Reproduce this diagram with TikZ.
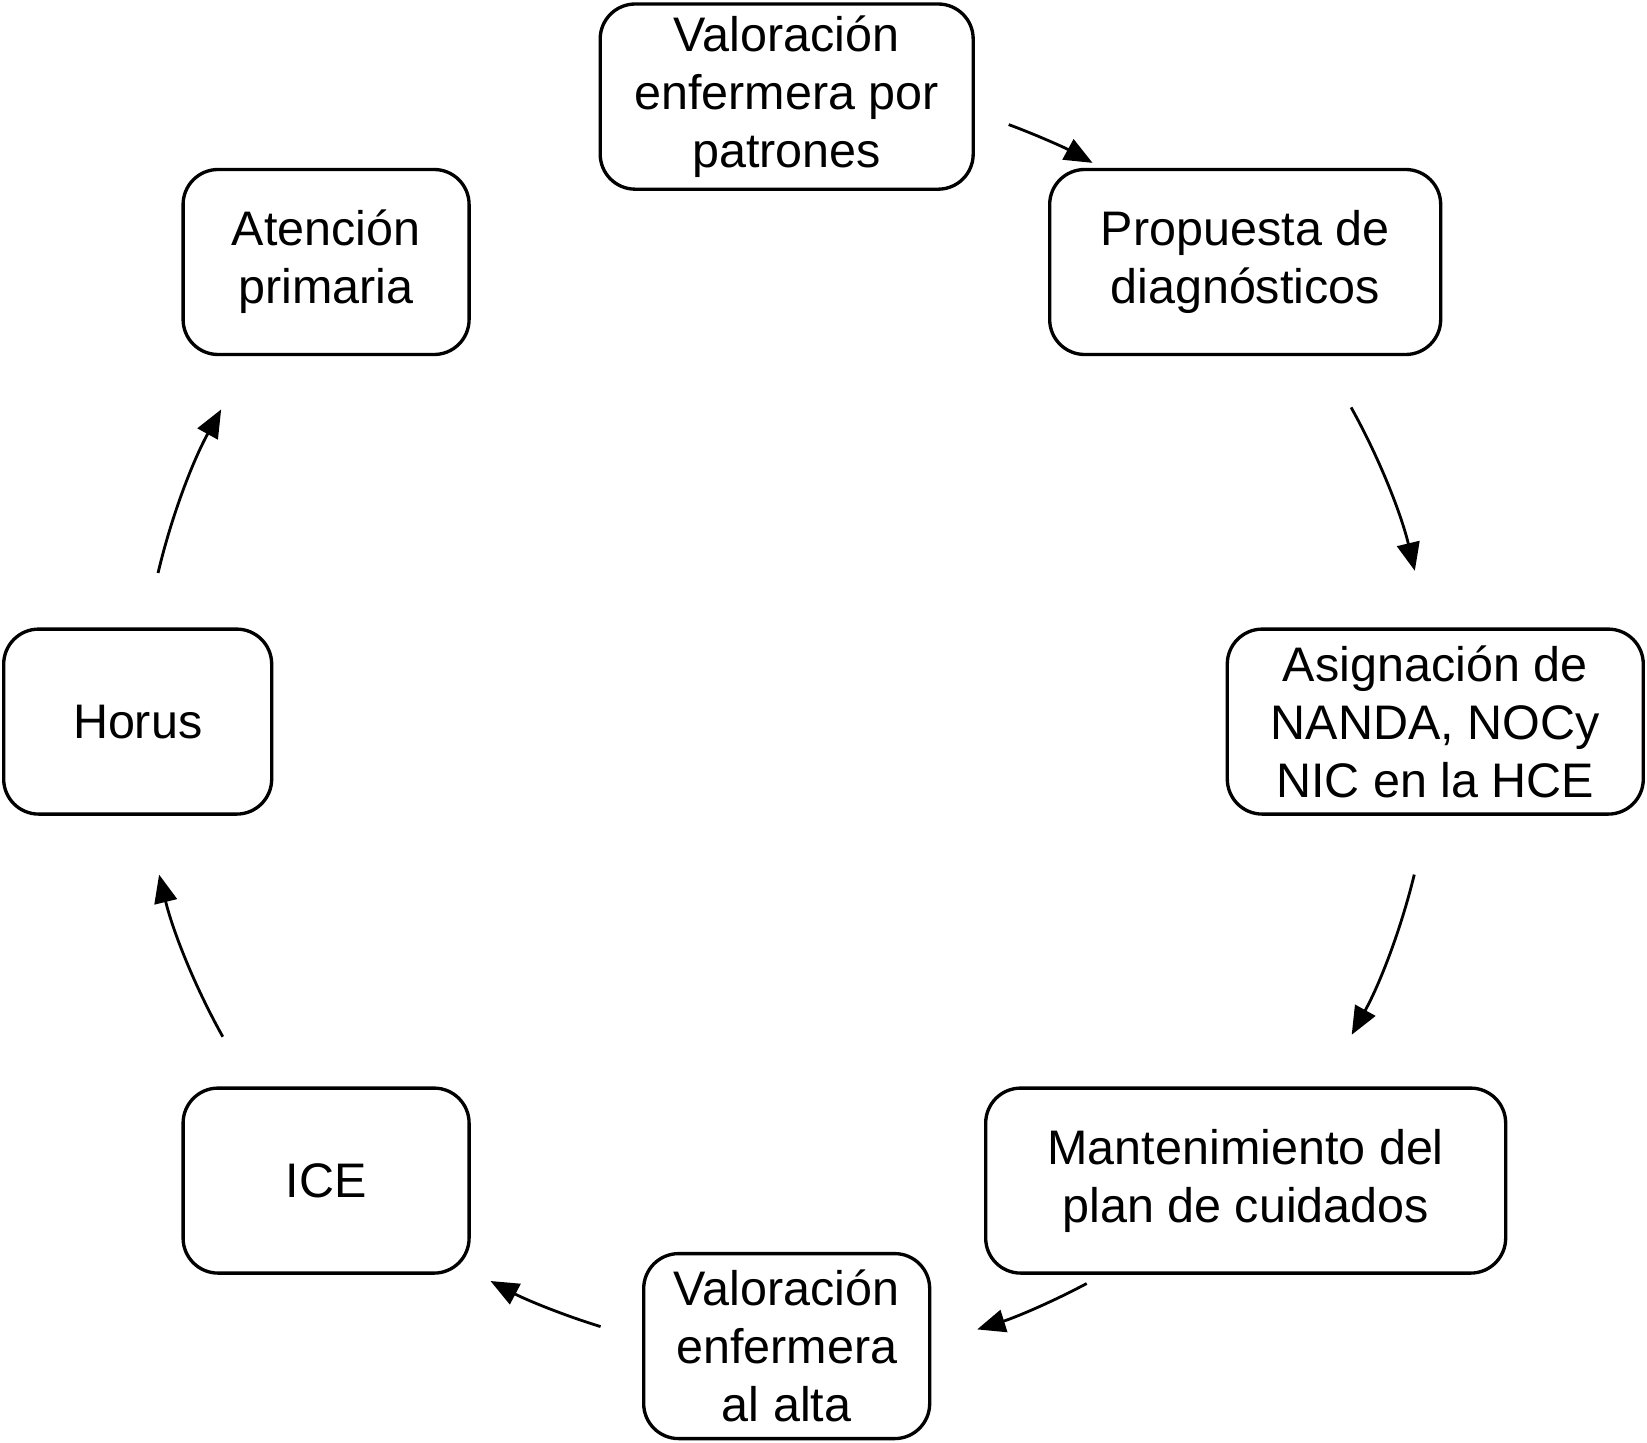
\documentclass[tikz,border=0pt]{standalone}
\usepackage{fontspec}
\setmainfont{Liberation Sans}
\usetikzlibrary{arrows.meta,positioning}

\begin{document}
\begin{tikzpicture}[
  box/.style={draw,line width=0.95pt,rounded corners=0.35cm,minimum height=1.85cm,
              align=center,font=\fontsize{13.8}{16.5}\selectfont},
  arr/.style={-{Triangle[length=8pt,width=6.5pt]},line width=0.8pt}]
  \useasboundingbox (-7.867,-7.214) rectangle (8.603,7.216);
  \coordinate (c) at (0,0);

  % Cycle nodes (clockwise from top)
  \node[box,minimum width=3.73cm] (n1) at (0,6.25) {Valoración\\enfermera por\\patrones};
  \node[box,minimum width=3.91cm] (n2) at (4.585,4.596) {Propuesta de\\diagnósticos};
  \node[box,minimum width=4.16cm] (n3) at (6.486,0) {Asignación de\\NANDA, NOCy\\NIC en la HCE};
  \node[box,minimum width=5.20cm] (n4) at (4.59,-4.59) {Mantenimiento del\\plan de cuidados};
  \node[box,minimum width=2.86cm] (n5) at (0,-6.245) {Valoración\\enfermera\\al alta};
  \node[box,minimum width=2.86cm] (n6) at (-4.606,-4.59) {ICE};
  \node[box,minimum width=2.68cm] (n7) at (-6.49,0) {Horus};
  \node[box,minimum width=2.86cm] (n8) at (-4.606,4.596) {Atención\\primaria};

  % Arrows along the circle round (c)
  \draw[arr] ([shift={(69.6:6.37)}]c) arc[start angle=69.6,end angle=61.3,radius=6.37];
  \draw[arr] ([shift={(29.1:6.46)}]c) arc[start angle=29.1,end angle=13.5,radius=6.46];
  \draw[arr] ([shift={(-13.7:6.46)}]c) arc[start angle=-13.7,end angle=-29.0,radius=6.46];
  \draw[arr] ([shift={(-61.9:6.37)}]c) arc[start angle=-61.9,end angle=-72.6,radius=6.37];
  \draw[arr] ([shift={(-107.1:6.33)}]c) arc[start angle=-107.1,end angle=-117.9,radius=6.33];
  \draw[arr] ([shift={(-150.8:6.46)}]c) arc[start angle=-150.8,end angle=-166.3,radius=6.46];
  \draw[arr] ([shift={(166.7:6.46)}]c) arc[start angle=166.7,end angle=151.1,radius=6.46];
\end{tikzpicture}
\end{document}
